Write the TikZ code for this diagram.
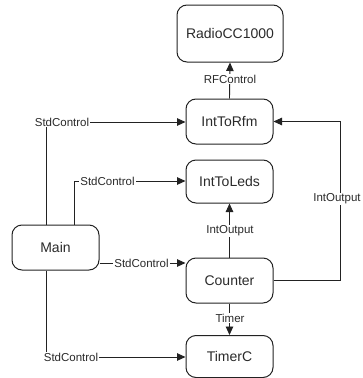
\documentclass[tikz,border=0pt]{standalone}
\usepackage{fontspec}
\setmainfont{Liberation Sans}
\usetikzlibrary{arrows.meta}
\definecolor{ink}{HTML}{222222}
\definecolor{txt}{HTML}{2A2A2A}
\tikzset{
  comp/.style={draw=ink, line width=1pt, rounded corners=10pt, inner sep=0pt,
    text=txt, font=\fontsize{14}{16}\selectfont},
  wire/.style={draw=ink, line width=0.9pt},
  tipwire/.style={wire, -{Triangle[length=8.5pt,width=7.5pt]}},
  lbl/.style={fill=white, inner sep=1pt, text=txt, font=\fontsize{11.5}{13}\selectfont}
}
\begin{document}
\begin{tikzpicture}[x=1pt, y=-1pt]
  \useasboundingbox (0,0) rectangle (362,378);

  % components
  \node[comp, minimum width=106pt, minimum height=57pt] (radio)   at (230,33.5)  {RadioCC1000};
  \node[comp, minimum width=87pt,  minimum height=45pt] (rfm)     at (229.5,121.5) {IntToRfm};
  \node[comp, minimum width=87pt,  minimum height=43pt] (leds)    at (229.5,181.5) {IntToLeds};
  \node[comp, minimum width=87pt,  minimum height=45pt] (counter) at (229.5,280.5) {Counter};
  \node[comp, minimum width=87pt,  minimum height=42pt] (timer)   at (229.5,356.5) {TimerC};
  \node[comp, minimum width=87pt,  minimum height=45pt] (main)    at (55.5,247.5)  {Main};

  % bend points of the wires
  \coordinate (k1) at (46,122);
  \coordinate (k2) at (74,181);
  \coordinate (k3) at (0,263);
  \coordinate (k4) at (46,357);
  \coordinate (k5) at (340,0);

  % Main -> IntToRfm
  \draw[tipwire] (main.north -| k1) -- (k1) -- (k1 -| rfm.west);
  \node[lbl] (l1) at (62,122) {StdControl};
  % Main -> IntToLeds
  \draw[tipwire] (main.north -| k2) -- (k2) -- (k2 -| leds.west);
  \node[lbl] (l2) at (107.5,181) {StdControl};
  % Main -> Counter
  \draw[tipwire] (main.east |- k3) -- (counter.west |- k3);
  \node[lbl] (l3) at (141.5,263) {StdControl};
  % Main -> TimerC
  \draw[tipwire] (main.south -| k4) -- (k4) -- (k4 -| timer.west);
  \node[lbl] (l4) at (71,357) {StdControl};

  % IntToRfm -> RadioCC1000
  \draw[tipwire] (rfm.north) -- (radio.south);
  \node[lbl] (l5) at (230,79) {RFControl};
  % Counter -> IntToLeds
  \draw[tipwire] (counter.north) -- (leds.south);
  \node[lbl] (l6) at (230,231) {IntOutput};
  % Counter -> TimerC
  \draw[tipwire] (counter.south) -- (timer.north);
  \node[lbl] (l7) at (230,318) {Timer};
  % Counter -> IntToRfm
  \draw[tipwire] (counter.east) -- (counter.east -| k5) -- (rfm.east -| k5) -- (rfm.east);
  \node[lbl] (l8) at (337,199) {IntOutput};
\end{tikzpicture}
\end{document}
